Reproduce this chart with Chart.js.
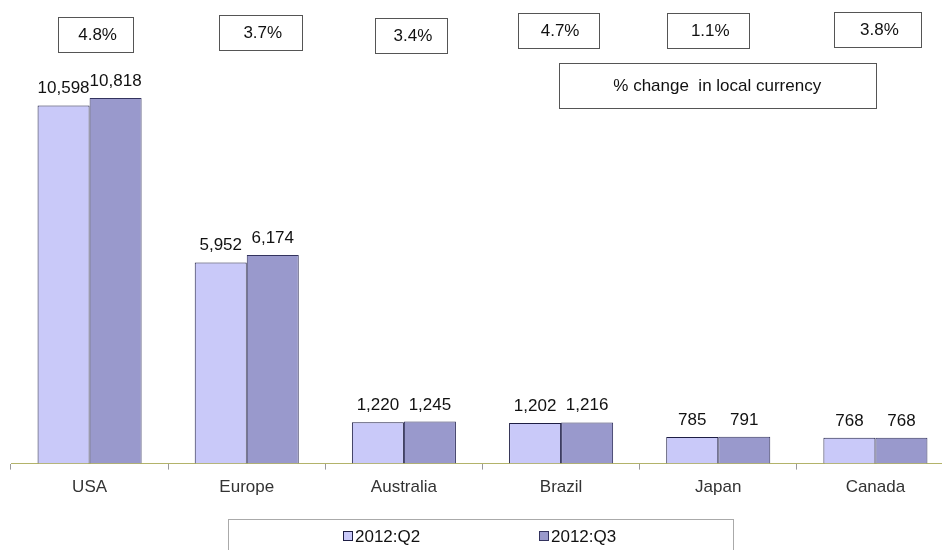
<!DOCTYPE html>
<html>
<head>
<meta charset="utf-8">
<script src="https://cdn.jsdelivr.net/npm/chart.js@4.4.1/dist/chart.umd.min.js"></script>
<style>
  html, body { margin: 0; padding: 0; background: #fff; overflow: hidden; }
  #wrap { width: 956px; height: 550px; }
</style>
</head>
<body>
<div id="wrap"><canvas id="c" width="956" height="550"></canvas></div>
<script>
const regions = ['USA', 'Europe', 'Australia', 'Brazil', 'Japan', 'Canada'];
const q2Values = [10598, 5952, 1220, 1202, 785, 768];
const q3Values = [10818, 6174, 1245, 1216, 791, 768];
const pctChange = ['4.8%', '3.7%', '3.4%', '4.7%', '1.1%', '3.8%'];
const seriesNames = ['2012:Q2', '2012:Q3'];
const noteText = '% change  in local currency';

const FONT = '"Liberation Sans", Arial, sans-serif';

// hand-placed boxes in the original: small nudges from each category centre
const boxShift = [6, 14, 7, -3, -10, 2];
const boxWidth = [75, 83, 72, 81, 82, 87];
const boxTop = [17, 15, 18, 13, 13, 12];

const extras = {
  id: 'extras',
  afterDatasetsDraw(chart) {
    const ctx = chart.ctx, xs = chart.scales.x;
    ctx.save();
    ctx.font = '17px ' + FONT;
    ctx.fillStyle = '#111';
    ctx.textAlign = 'center';
    ctx.textBaseline = 'alphabetic';
    // value labels above bars
    chart.data.datasets.forEach((ds, di) => {
      chart.getDatasetMeta(di).data.forEach((bar, i) => {
        ctx.fillText(ds.data[i].toLocaleString('en-US'), bar.x, bar.y - 12);
      });
    });

    // % change boxes
    ctx.strokeStyle = '#555';
    ctx.lineWidth = 1;
    ctx.textBaseline = 'middle';
    pctChange.forEach((t, i) => {
      const cx = xs.getPixelForValue(i) + boxShift[i];
      const w = boxWidth[i], h = 35, y = boxTop[i];
      ctx.strokeRect(Math.round(cx - w / 2) + 0.5, y + 0.5, w, h);
      ctx.fillText(t, cx + 2, y + h / 2 + 1);
    });

    // note box
    const nx = xs.getPixelForValue(4) - 1;
    ctx.strokeRect(Math.round(nx - 158) + 0.5, 63.5, 317, 45);
    ctx.fillText(noteText, nx, 86);

    // legend
    ctx.strokeStyle = '#aaa';
    ctx.strokeRect(228.5, 519.5, 505, 40);
    ctx.textAlign = 'left';
    const lx = [343, 539];
    chart.data.datasets.forEach((ds, di) => {
      ctx.fillStyle = ds.backgroundColor;
      ctx.fillRect(lx[di], 531, 9, 9);
      ctx.strokeStyle = ds.borderColor;
      ctx.strokeRect(lx[di] + 0.5, 531.5, 9, 9);
      ctx.fillStyle = '#111';
      ctx.fillText(ds.label, lx[di] + 12, 537);
    });
    ctx.restore();
  }
};

new Chart(document.getElementById('c'), {
  type: 'bar',
  data: {
    labels: regions,
    datasets: [
      { label: seriesNames[0], data: q2Values, backgroundColor: '#c9c9f9', borderColor: '#1e1e44', borderWidth: 1 },
      { label: seriesNames[1], data: q3Values, backgroundColor: '#9999cc', borderColor: '#33335e', borderWidth: 1 }
    ]
  },
  options: {
    responsive: false,
    animation: false,
    events: [],
    layout: { padding: { top: 58, left: 11, right: 2, bottom: 44 } },
    datasets: { bar: { categoryPercentage: 0.662, barPercentage: 1.0 } },
    plugins: { legend: { display: false }, tooltip: { enabled: false } },
    scales: {
      x: {
        grid: { drawOnChartArea: false, drawTicks: true, tickLength: 6, color: '#999' },
        border: { color: '#b3b36a', width: 1 },
        ticks: { color: '#333', font: { family: FONT, size: 17 }, padding: 8 }
      },
      y: { display: false, min: 0, max: 12000 }
    }
  },
  plugins: [extras]
});
</script>
</body>
</html>
